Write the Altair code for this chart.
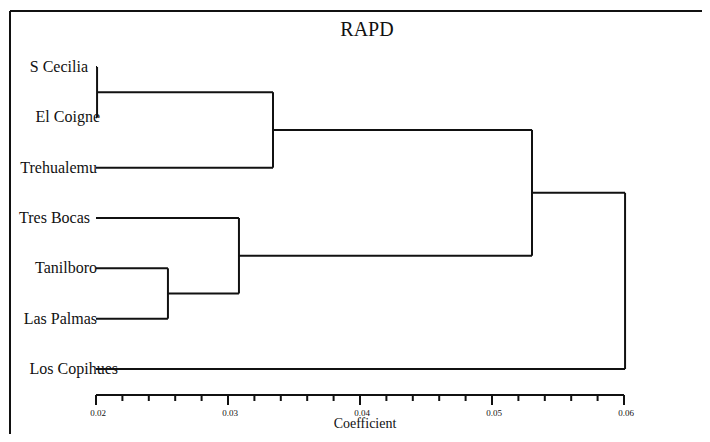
import altair as alt
import pandas as pd

# ---------------- data ----------------
leaves = ["S Cecilia", "El Coigne", "Trehualemu", "Tres Bocas",
          "Tanilboro", "Las Palmas", "Los Copihues"]
# agglomeration steps: child a, child b, joining coefficient
# (indices 0-6 are leaves, 7.. are clusters created by earlier steps)
merge_a = [0, 4, 7, 3, 9, 11]
merge_b = [1, 5, 2, 8, 10, 6]
merge_h = [0.02008, 0.02545, 0.03341, 0.03083, 0.05303, 0.06008]
leaf_base = 0.02

major_ticks = [0.02, 0.03, 0.04, 0.05, 0.06]
major_labels = ["0.02", "0.03", "0.04", "0.05", "0.06"]
minor_ticks = [0.022, 0.024, 0.026, 0.028,
               0.032, 0.034, 0.036, 0.038,
               0.042, 0.044, 0.046, 0.048,
               0.052, 0.054, 0.056, 0.058]
title_text = "RAPD"
axis_title = "Coefficient"

# ---------------- style ----------------
W, H = 692, 423
PX_PER_UNIT = 13200.0
X0_PX = 86.0                      # pixel of 0.02 in plot coords
XMIN = 0.02 - X0_PX / PX_PER_UNIT
XMAX = 0.02 + (W - X0_PX) / PX_PER_UNIT
LEAF_TOP_PX, LEAF_STEP_PX = 56.0, 50.33
YMIN = -LEAF_TOP_PX / LEAF_STEP_PX
YMAX = (H - LEAF_TOP_PX) / LEAF_STEP_PX
label_nudge_px = [-8, 4, 1, -6, 1, 1, 22]   # right-end offsets of the labels
FONT = "Liberation Serif"
INK = "#111111"
LW = 2

xs = alt.Scale(domain=[XMIN, XMAX], nice=False, zero=False)
ys = alt.Scale(domain=[YMIN, YMAX], nice=False, zero=False, reverse=True)

# ---------------- build dendrogram segments ----------------
node_x = {i: leaf_base for i in range(len(leaves))}
node_y = {i: float(i) for i in range(len(leaves))}
segs = []
for k, (a, b, h) in enumerate(zip(merge_a, merge_b, merge_h)):
    nid = len(leaves) + k
    for c in (a, b):
        segs.append({"x0": node_x[c], "x1": h, "y0": node_y[c], "y1": node_y[c]})
    segs.append({"x0": h, "x1": h, "y0": node_y[a], "y1": node_y[b]})
    node_x[nid] = h
    node_y[nid] = (node_y[a] + node_y[b]) / 2
seg_df = pd.DataFrame(segs)

lines = alt.Chart(seg_df).mark_rule(color=INK, strokeWidth=LW).encode(
    x=alt.X("x0:Q", scale=xs, axis=None),
    x2="x1:Q",
    y=alt.Y("y0:Q", scale=ys, axis=None),
    y2="y1:Q",
)

leaf_df = pd.DataFrame({
    "name": leaves,
    "y": [float(i) for i in range(len(leaves))],
    "lx": [leaf_base + n / PX_PER_UNIT for n in label_nudge_px],
})
labels = alt.Chart(leaf_df).mark_text(
    align="right", baseline="middle", font=FONT, fontSize=16, color=INK
).encode(
    x=alt.X("lx:Q", scale=xs, axis=None),
    y=alt.Y("y:Q", scale=ys, axis=None),
    text="name:N",
)

# ---------------- hand-drawn axis ----------------
axis_df = pd.DataFrame({"a": [major_ticks[0]], "b": [major_ticks[-1]]})
axis_line = alt.Chart(axis_df).mark_rule(color=INK, strokeWidth=LW).encode(
    x=alt.X("a:Q", scale=xs, axis=None), x2="b:Q", y=alt.value(384)
)
maj_df = pd.DataFrame({"t": major_ticks, "lab": major_labels})
maj = alt.Chart(maj_df).mark_rule(color=INK, strokeWidth=LW).encode(
    x=alt.X("t:Q", scale=xs, axis=None), y=alt.value(384), y2=alt.value(394)
)
maj_lab = alt.Chart(maj_df).mark_text(
    font=FONT, fontSize=9, color=INK, baseline="middle", dx=2
).encode(
    x=alt.X("t:Q", scale=xs, axis=None), y=alt.value(401.5), text="lab:N"
)
min_df = pd.DataFrame({"t": minor_ticks})
mino = alt.Chart(min_df).mark_rule(color=INK, strokeWidth=LW).encode(
    x=alt.X("t:Q", scale=xs, axis=None), y=alt.value(384), y2=alt.value(390)
)

one = pd.DataFrame({"k": [0]})
x_title = alt.Chart(one).mark_text(
    text=axis_title, font=FONT, fontSize=14, color=INK, baseline="middle"
).encode(x=alt.value(355), y=alt.value(413))
main_title = alt.Chart(one).mark_text(
    text=title_text, font=FONT, fontSize=20, color=INK, baseline="middle"
).encode(x=alt.value(357), y=alt.value(19))

frame_top = alt.Chart(one).mark_rule(color=INK, strokeWidth=LW).encode(
    x=alt.value(0), x2=alt.value(W), y=alt.value(0)
)
frame_left = alt.Chart(one).mark_rule(color=INK, strokeWidth=LW).encode(
    x=alt.value(0), y=alt.value(0), y2=alt.value(H)
)

chart = alt.layer(
    frame_top, frame_left, lines, labels, axis_line, maj, mino, maj_lab,
    x_title, main_title
).properties(
    width=W, height=H,
    autosize=alt.AutoSizeParams(type="none"),
    padding={"left": 2, "top": 3, "right": 0, "bottom": 0},
).configure_view(stroke=None)

chart.save("out.html", embed_options={"renderer": "svg", "actions": False})
